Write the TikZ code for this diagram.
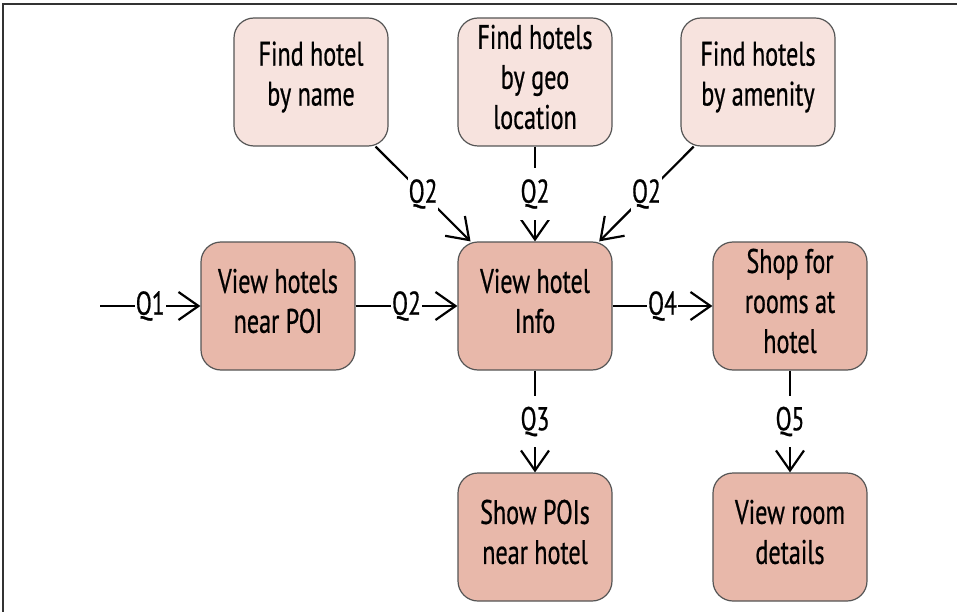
\documentclass[tikz,border=0pt]{standalone}
\usepackage{fontspec}
\setmainfont[FakeStretch=0.71,FakeBold=0.6]{PT Sans}
\usetikzlibrary{arrows.meta}
\definecolor{lightbox}{HTML}{F7E3DE}
\definecolor{darkbox}{HTML}{E8B8AA}
\definecolor{edgegray}{HTML}{555555}
\definecolor{framegray}{HTML}{333333}
\begin{document}
\begin{tikzpicture}[x=1pt,y=-1pt,
  box/.style={draw=edgegray, line width=1.2pt, rounded corners=20pt,
    minimum width=154pt, minimum height=128pt, inner sep=0pt},
  boxtext/.style={align=center, font=\fontsize{34}{40}\selectfont, inner sep=0pt, yshift=5pt},
  findbox/.style={box, fill=lightbox},
  viewbox/.style={box, fill=darkbox},
  conn/.style={line width=2.2pt, -{Straight Barb[length=20pt,width=28pt,line width=2.2pt]}},
  lbl/.style={fill=white, font=\fontsize{33}{36}\selectfont, inner xsep=1pt, inner ysep=11pt}]
\useasboundingbox (0,0) rectangle (957,612);
\draw[framegray, line width=2pt] (3,612) -- (3,4) -- (957,4);

\node[findbox, label={[boxtext]center:Find hotel\\by name}] (name) at (311,82) {};
\node[findbox, label={[boxtext]center:Find hotels\\by geo\\location}] (geo) at (535,82) {};
\node[findbox, label={[boxtext]center:Find hotels\\by amenity}] (amen) at (758,82) {};
\node[viewbox, label={[boxtext]center:View hotels\\near POI}] (poi) at (278,306) {};
\node[viewbox, label={[boxtext]center:View hotel\\Info}] (info) at (535,306) {};
\node[viewbox, label={[boxtext]center:Shop for\\rooms at\\hotel}] (shop) at (790,306) {};
\node[viewbox, label={[boxtext]center:Show POIs\\near hotel}] (show) at (535,537) {};
\node[viewbox, label={[boxtext]center:View room\\details}] (room) at (790,537) {};
\coordinate (start) at (100,306);

\draw[conn] (start) -- node[lbl] {Q1} (poi);
\draw[conn] (poi) -- node[lbl] {Q2} (info);
\draw[conn] (info) -- node[lbl] {Q4} (shop);
\draw[conn] (info) -- node[lbl] {Q3} (show);
\draw[conn] (shop) -- node[lbl] {Q5} (room);
\draw[conn] (name) -- node[lbl] {Q2} (info);
\draw[conn] (geo) -- node[lbl] {Q2} (info);
\draw[conn] (amen) -- node[lbl] {Q2} (info);
\end{tikzpicture}
\end{document}
